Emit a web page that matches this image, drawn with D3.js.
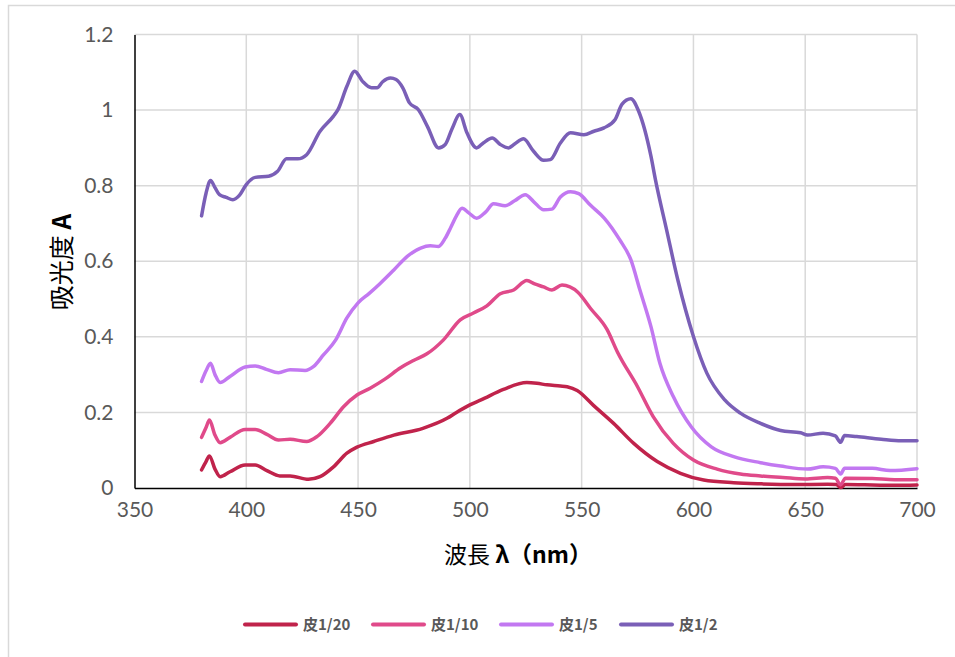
<!DOCTYPE html>
<html>
<head>
<meta charset="utf-8">
<script src="https://cdn.jsdelivr.net/npm/d3@7"></script>
<style>
  body { margin: 0; background: #fff; }
  .tick-label { font-family: Lato, "Open Sans", sans-serif; font-size: 21px; fill: #595959; }
  .axis-title { font-family: "Noto Sans CJK JP", sans-serif; font-size: 23px; fill: #000; }
  .legend-label { font-family: "Noto Sans CJK JP", sans-serif; font-size: 15px; font-weight: bold; fill: #595959; }
</style>
</head>
<body>
<div id="chart"></div>
<script>
// series names + colours
var seriesNames = ["皮1/20", "皮1/10", "皮1/5", "皮1/2"];
var seriesColors = ["#c0234b", "#e04a8a", "#c278f1", "#7a5fb7"];

var xTicks = [350, 400, 450, 500, 550, 600, 650, 700];
var yTicks = [0, 0.2, 0.4, 0.6, 0.8, 1, 1.2];
var yTickLabels = ["0", "0.2", "0.4", "0.6", "0.8", "1", "1.2"];

// 皮1/20
var wl20 = [380, 382, 383.5, 386, 388.3, 392.7, 399.5, 404, 409.2, 415, 419.6, 427.8, 433, 439, 445, 449.5, 457, 466, 479, 490, 494, 500, 505, 515, 525.5, 530, 534.5, 540.5, 543.5, 548, 555.4, 564.3, 573.3, 583.8, 594.2, 604.6, 618, 630, 645, 660, 664, 665.8, 668, 680, 690, 700];
var abs20 = [0.048, 0.07, 0.085, 0.05, 0.030, 0.043, 0.061, 0.061, 0.046, 0.032, 0.032, 0.023, 0.030, 0.056, 0.092, 0.108, 0.123, 0.140, 0.158, 0.185, 0.20, 0.220, 0.233, 0.261, 0.279, 0.277, 0.273, 0.270, 0.268, 0.258, 0.218, 0.171, 0.118, 0.070, 0.039, 0.021, 0.014, 0.011, 0.009, 0.010, 0.009, 0.001, 0.009, 0.008, 0.007, 0.008];

// 皮1/10
var wl10 = [380, 382, 383.5, 386, 388.3, 392.7, 399.5, 404, 409.2, 414.4, 419.6, 427, 431.6, 437.5, 443.5, 449.5, 455.4, 462, 469, 475, 480.8, 488.2, 495.7, 501.6, 507.6, 513.6, 519.6, 525.5, 529, 533, 536.7, 541.2, 548.3, 554, 561.4, 566, 575, 582, 591, 600, 610.6, 621, 630, 640, 650, 660, 663.5, 665.8, 668, 680, 690, 700];
var abs10 = [0.134, 0.16, 0.180, 0.14, 0.120, 0.134, 0.155, 0.155, 0.142, 0.127, 0.129, 0.123, 0.136, 0.171, 0.215, 0.246, 0.264, 0.288, 0.318, 0.338, 0.355, 0.392, 0.445, 0.463, 0.482, 0.514, 0.524, 0.549, 0.54, 0.532, 0.524, 0.537, 0.518, 0.475, 0.419, 0.36, 0.268, 0.189, 0.118, 0.074, 0.050, 0.037, 0.032, 0.028, 0.024, 0.028, 0.026, 0.008, 0.026, 0.025, 0.022, 0.022];

// 皮1/5
var wl5 = [380, 382, 384, 386, 388.3, 392.7, 399.5, 404, 409, 414.4, 419.6, 426.3, 430, 434.5, 440, 445, 450, 455, 460, 466, 472, 478, 482.3, 486, 489, 491.5, 494, 496.5, 499.5, 503, 507, 510.6, 515.8, 520, 524.8, 528.5, 533, 536.7, 540.5, 545, 548.7, 554, 560, 567, 572, 576, 581, 585, 591, 599, 608, 618, 630, 639, 651, 658, 663.5, 665.8, 667.6, 680, 688, 700];
var abs5 = [0.282, 0.31, 0.330, 0.30, 0.279, 0.295, 0.320, 0.323, 0.314, 0.305, 0.313, 0.311, 0.321, 0.352, 0.392, 0.45, 0.49, 0.515, 0.542, 0.577, 0.613, 0.635, 0.641, 0.639, 0.661, 0.69, 0.72, 0.740, 0.728, 0.714, 0.73, 0.752, 0.747, 0.76, 0.776, 0.758, 0.736, 0.738, 0.770, 0.784, 0.779, 0.748, 0.715, 0.657, 0.604, 0.525, 0.427, 0.330, 0.242, 0.162, 0.109, 0.083, 0.067, 0.058, 0.050, 0.056, 0.052, 0.037, 0.052, 0.052, 0.046, 0.051];

// 皮1/2
var wl2 = [380, 382, 384, 386, 388, 391, 394, 397, 400, 404, 410, 414, 418, 423, 427, 433, 439, 441, 445, 448.5, 452, 456, 458.5, 461, 464.5, 467, 470, 473, 477, 481, 486, 489, 492, 495.5, 498.7, 503, 506, 510, 513.6, 517.3, 520, 524, 528.5, 533, 536, 540.5, 545, 551, 555.5, 560, 565, 568, 572, 575.5, 581, 583, 588, 593, 600, 606, 614, 621, 630, 639, 648, 651, 658, 663.5, 665.8, 667.6, 673, 684, 693, 700];
var abs2 = [0.72, 0.78, 0.814, 0.795, 0.776, 0.769, 0.763, 0.775, 0.803, 0.822, 0.825, 0.838, 0.871, 0.871, 0.882, 0.944, 0.984, 1.001, 1.063, 1.103, 1.076, 1.059, 1.059, 1.075, 1.085, 1.081, 1.059, 1.019, 1.001, 0.957, 0.900, 0.909, 0.95, 0.988, 0.94, 0.900, 0.913, 0.926, 0.909, 0.900, 0.91, 0.924, 0.891, 0.867, 0.869, 0.913, 0.940, 0.935, 0.944, 0.953, 0.975, 1.015, 1.030, 0.997, 0.878, 0.816, 0.683, 0.551, 0.401, 0.304, 0.233, 0.198, 0.171, 0.152, 0.146, 0.140, 0.145, 0.138, 0.121, 0.139, 0.136, 0.129, 0.125, 0.125];

var wlList = [wl20, wl10, wl5, wl2];
var absList = [abs20, abs10, abs5, abs2];

var W = 955, H = 657;
var plot = {left: 134.5, right: 917, top: 34.5, bottom: 488};

var svg = d3.select("#chart").append("svg")
    .attr("width", W)
    .attr("height", H);

// chart border
svg.append("rect")
    .attr("x", 8.5).attr("y", 5.5)
    .attr("width", W).attr("height", H)
    .attr("fill", "none")
    .attr("stroke", "#d9d9d9")
    .attr("stroke-width", 1.5);

var x = d3.scaleLinear().domain([350, 700]).range([plot.left, plot.right]);
var y = d3.scaleLinear().domain([0, 1.2]).range([plot.bottom, plot.top]);

// gridlines
svg.append("g").selectAll("line.vg")
    .data(xTicks.slice(1))
    .enter().append("line")
    .attr("x1", d => x(d)).attr("x2", d => x(d))
    .attr("y1", plot.top).attr("y2", plot.bottom)
    .attr("stroke", "#d9d9d9").attr("stroke-width", 1.5);

svg.append("g").selectAll("line.hg")
    .data(yTicks.slice(1))
    .enter().append("line")
    .attr("x1", plot.left).attr("x2", plot.right)
    .attr("y1", d => y(d)).attr("y2", d => y(d))
    .attr("stroke", "#d9d9d9").attr("stroke-width", 1.5);

// axes
var xAxis = svg.append("g")
    .attr("transform", "translate(0," + plot.bottom + ")")
    .call(d3.axisBottom(x).tickValues(xTicks).tickSize(0).tickPadding(20).tickFormat(d3.format("d")));
xAxis.select(".domain").attr("stroke", "#000").attr("stroke-width", 1.5);
xAxis.selectAll("text").attr("class", "tick-label").attr("dy", "0.45em");

var yAxis = svg.append("g")
    .attr("transform", "translate(" + plot.left + ",0)")
    .call(d3.axisLeft(y).tickValues(yTicks).tickSize(0).tickPadding(21)
        .tickFormat((d, i) => yTickLabels[i]));
yAxis.select(".domain").attr("stroke", "#000").attr("stroke-width", 1.5);
yAxis.selectAll("text").attr("class", "tick-label");

// lines
var line = d3.line()
    .x(d => x(d[0]))
    .y(d => y(d[1]))
    .curve(d3.curveMonotoneX);

seriesNames.forEach(function(name, i) {
    var pts = d3.zip(wlList[i], absList[i]);
    svg.append("path")
        .datum(pts)
        .attr("d", line)
        .attr("fill", "none")
        .attr("stroke", seriesColors[i])
        .attr("stroke-width", 3.5)
        .attr("stroke-linejoin", "round")
        .attr("stroke-linecap", "round");
});

// axis titles
var xt = svg.append("text")
    .attr("class", "axis-title")
    .attr("x", 518).attr("y", 563)
    .style("text-anchor", "middle");
xt.append("tspan").text("波長 ");
xt.append("tspan").style("font-weight", "bold").text("λ（nm）");

var yt = svg.append("text")
    .attr("class", "axis-title")
    .style("font-size", "25px")
    .attr("transform", "translate(71,262) rotate(-90)")
    .style("text-anchor", "middle");
yt.append("tspan").text("吸光度 ");
yt.append("tspan").style("font-weight", "bold").text("A");

// legend
var legendX = [245, 373, 501, 621];
var lg = svg.append("g");
seriesNames.forEach(function(name, i) {
    lg.append("line")
        .attr("x1", legendX[i]).attr("x2", legendX[i] + 51)
        .attr("y1", 624.5).attr("y2", 624.5)
        .attr("stroke", seriesColors[i])
        .attr("stroke-width", 4)
        .attr("stroke-linecap", "round");
    lg.append("text")
        .attr("class", "legend-label")
        .attr("x", legendX[i] + 58)
        .attr("y", 630)
        .text(name);
});
</script>
</body>
</html>
